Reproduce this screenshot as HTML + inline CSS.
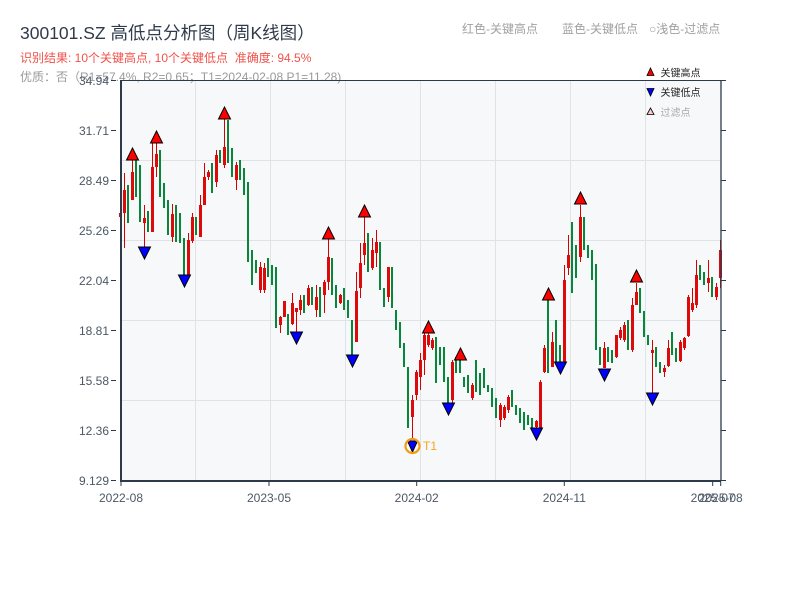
<!DOCTYPE html>
<html>
<head>
<meta charset="utf-8">
<style>
html,body{margin:0;padding:0;background:#fff;}
svg{display:block;}
text{font-family:"Liberation Sans","Noto Sans CJK SC",sans-serif;}
</style>
</head>
<body>
<svg width="800" height="600" viewBox="0 0 800 600" xmlns="http://www.w3.org/2000/svg">
<rect x="0" y="0" width="800" height="600" fill="#ffffff"/>
<rect x="121" y="80" width="600" height="400" fill="#f6f8fa"/>
<path d="M195.5 80V480M270.5 80V480M345.5 80V480M420.5 80V480M495.5 80V480M570.5 80V480M645.5 80V480M121 160.5H721M121 240.5H721M121 320.5H721M121 400.5H721" stroke="#dfe3e8" stroke-width="1" fill="none"/>

<text x="20" y="39" font-size="17.5" fill="#2f3b4a">300101.SZ 高低点分析图（周K线图）</text>
<text x="20" y="62" font-size="12" fill="#f0524a">识别结果: 10个关键高点, 10个关键低点&#160;&#160;准确度: 94.5%</text>
<text x="20" y="81" font-size="12" fill="#9a9a9a">优质：否（R1=57.4%, R2=0.65；T1=2024-02-08 P1=11.28)</text>
<text x="462" y="33" font-size="12" fill="#a0a0a0">红色-关键高点</text>
<text x="562" y="33" font-size="12" fill="#a0a0a0">蓝色-关键低点</text>
<text x="649" y="33" font-size="12" fill="#a0a0a0">○浅色-过滤点</text>

<g transform="translate(-0.5,0)">
<path fill="none" stroke="#07873a" stroke-width="2" d="M128.5 185V223M136.5 157V197M140.5 165V222M148.5 211V232M160.5 150V197M164.5 183V208M168.5 200V235M176.5 205V242M180.5 213V243M184.5 238V275M196.5 217V235M212.5 163V193M220.5 150V163M228.5 120V163M232.5 148V177M240.5 160V180M244.5 168V195M248.5 182V262M252.5 250V285M256.5 260V273M268.5 258V277M272.5 265V285M276.5 267V328M288.5 314V335M304.5 295V313M312.5 287V305M320.5 287V317M332.5 258V295M336.5 285V308M344.5 288V310M348.5 300V318M352.5 320V355M368.5 233V272M380.5 242V290M384.5 288V307M392.5 267V308M396.5 310V330M400.5 322V348M404.5 343V367M408.5 367V428M436.5 337V383M440.5 347V365M444.5 347V382M448.5 377V403M456.5 357V373M460.5 360V373M464.5 377V387M468.5 375V393M476.5 360V392M480.5 373V395M484.5 368V388M488.5 385V392M492.5 388V407M496.5 398V418M512.5 390V407M516.5 405V415M520.5 408V423M524.5 412V430M528.5 415V425M532.5 418V428M548.5 300V373M556.5 320V362M560.5 345V362M572.5 222V293M576.5 245V278M584.5 217V250M588.5 245V258M592.5 250V280M596.5 264V350M600.5 347V365M608.5 347V362M612.5 350V363M628.5 320V350M640.5 288V313M644.5 311V337M648.5 335V345M656.5 347V367M660.5 362V373M672.5 332V355M676.5 348V362M700.5 265V280M704.5 272V285M712.5 277V297"/>
</g>

<path fill="none" stroke="#d60000" stroke-width="1" d="M120.5 213V217M124.5 173V248M132.5 160V200M144.5 205V247M152.5 143V232M156.5 143V177M172.5 204V242M188.5 233V277M192.5 213V243M200.5 195V237M204.5 163V205M208.5 170V180M216.5 150V187M224.5 119V168M236.5 162V190M260.5 262V293M264.5 263V293M280.5 316V333M284.5 301V317M292.5 293V325M296.5 308V332M300.5 295V315M308.5 285V306M316.5 285V317M324.5 280V313M328.5 239V290M340.5 294V304M356.5 272V342M360.5 243V298M364.5 217V265M372.5 238V270M376.5 230V267M388.5 267V302M412.5 395V440M416.5 370V400M420.5 353V390M424.5 333V375M428.5 333V347M432.5 338V350M452.5 360V403M472.5 383V400M500.5 403V427M504.5 405V420M508.5 395V413M536.5 420V428M540.5 380V430M544.5 345V373M552.5 332V367M564.5 265V363M568.5 235V275M580.5 205V262M604.5 342V368M616.5 335V358M620.5 327V340M624.5 322V342M632.5 298V352M636.5 283V305M652.5 340V393M664.5 365V377M668.5 340V367M680.5 340V362M684.5 337V350M688.5 295V337M692.5 288V312M696.5 260V308M708.5 260V292M716.5 283V300M720.5 240V288"/>
<path fill="none" stroke="#dc0a0a" stroke-width="3" d="M120.5 213V217M124.5 190V213M132.5 172V200M144.5 218V223M152.5 167V232M156.5 154V167M172.5 214V237M188.5 240V275M192.5 217V241M200.5 205V237M204.5 177V205M208.5 172V177M216.5 155V182M224.5 147V165M236.5 165V180M260.5 267V290M264.5 268V290M280.5 317V325M284.5 301V317M292.5 303V324M296.5 308V312M300.5 300V310M308.5 288V305M316.5 297V310M324.5 282V295M328.5 257V282M340.5 295V303M356.5 291V342M360.5 263V288M364.5 243V255M372.5 250V268M376.5 242V253M388.5 267V297M412.5 400V417M416.5 372V395M420.5 360V377M424.5 335V360M428.5 335V345M432.5 340V348M452.5 362V400M472.5 385V398M500.5 405V420M504.5 407V418M508.5 397V410M536.5 421V427M540.5 382V428M544.5 348V372M552.5 342V367M564.5 280V362M568.5 255V268M580.5 217V257M604.5 348V368M616.5 335V357M620.5 330V338M624.5 325V340M632.5 305V350M636.5 292V305M652.5 350V353M664.5 368V372M668.5 348V366M680.5 342V361M684.5 338V348M688.5 297V336M692.5 303V310M696.5 275V305M708.5 278V283M716.5 287V297M720.5 250V278"/>

<g fill="#ff0000" stroke="#000" stroke-width="1">
<polygon points="126.5,160 138.5,160 132.5,148"/>
<polygon points="150.5,143 162.5,143 156.5,131"/>
<polygon points="218.5,119 230.5,119 224.5,107"/>
<polygon points="322.5,239 334.5,239 328.5,227"/>
<polygon points="358.5,217 370.5,217 364.5,205"/>
<polygon points="422.5,333 434.5,333 428.5,321"/>
<polygon points="454.5,360 466.5,360 460.5,348"/>
<polygon points="542.5,300 554.5,300 548.5,288"/>
<polygon points="574.5,204 586.5,204 580.5,192"/>
<polygon points="630.5,282 642.5,282 636.5,270"/>
</g>
<g fill="#0000ff" stroke="#000" stroke-width="1">
<polygon points="138.5,247 150.5,247 144.5,259"/>
<polygon points="178.5,275 190.5,275 184.5,287"/>
<polygon points="290.5,332 302.5,332 296.5,344"/>
<polygon points="346.5,355 358.5,355 352.5,367"/>
<polygon points="407.5,441 417.5,441 412.5,452"/>
<polygon points="442.5,403 454.5,403 448.5,415"/>
<polygon points="530.5,428 542.5,428 536.5,440"/>
<polygon points="554.5,362 566.5,362 560.5,374"/>
<polygon points="598.5,369 610.5,369 604.5,381"/>
<polygon points="646.5,393 658.5,393 652.5,405"/>
</g>
<circle cx="412.5" cy="446" r="7" fill="none" stroke="#f39c12" stroke-width="2.2"/>
<text x="423" y="450" font-size="12" fill="#f5a623">T1</text>

<path d="M121 80V481" stroke="#2c3a4a" stroke-width="2" fill="none"/>
<path d="M120 481H721" stroke="#2c3a4a" stroke-width="2" fill="none"/>
<path d="M721 80V481" stroke="#2c3a4a" stroke-width="1.3" fill="none"/>
<path d="M120 80.5H722" stroke="#2c3a4a" stroke-width="1" fill="none"/>
<path d="M111 80.5H116M111 130.5H116M111 180.5H116M111 230.5H116M111 280.5H116M111 330.5H116M111 380.5H116M111 430.5H116M111 480.5H116" stroke="#2c3a4a" stroke-width="1" fill="none"/>
<path d="M721 80.5H726M721 130.5H726M721 180.5H726M721 230.5H726M721 280.5H726M721 330.5H726M721 380.5H726M721 430.5H726M721 480.5H726" stroke="#2c3a4a" stroke-width="1" fill="none"/>
<path d="M121 481V486M269 481V486M416.7 481V486M564.3 481V486M712.7 481V486M720.7 481V486" stroke="#2c3a4a" stroke-width="1" fill="none"/>

<g font-size="12" fill="#4d5866" text-anchor="end">
<text x="109" y="85">34.94</text>
<text x="109" y="135">31.71</text>
<text x="109" y="185">28.49</text>
<text x="109" y="235">25.26</text>
<text x="109" y="285">22.04</text>
<text x="109" y="335">18.81</text>
<text x="109" y="385">15.58</text>
<text x="109" y="435">12.36</text>
<text x="109" y="485">9.129</text>
</g>
<g font-size="12" fill="#4d5866" text-anchor="middle">
<text x="121" y="502">2022-08</text>
<text x="269" y="502">2023-05</text>
<text x="416.7" y="502">2024-02</text>
<text x="564.3" y="502">2024-11</text>
<text x="712.7" y="502">2025-07</text>
<text x="720.7" y="502">2025-08</text>
</g>

<polygon points="647,75.5 654,75.5 650.5,68" fill="#ff0000" stroke="#000" stroke-width="0.8"/>
<text x="660.5" y="76.5" font-size="10" fill="#222">关键高点</text>
<polygon points="647,88.5 654,88.5 650.5,96" fill="#0000ff" stroke="#000" stroke-width="0.8"/>
<text x="660.5" y="96" font-size="10" fill="#222">关键低点</text>
<polygon points="647,114.5 654,114.5 650.5,108" fill="#ffc8c8" stroke="#000" stroke-width="0.8"/>
<text x="660.5" y="116" font-size="10" fill="#aaaaaa">过滤点</text>
</svg>
</body>
</html>
